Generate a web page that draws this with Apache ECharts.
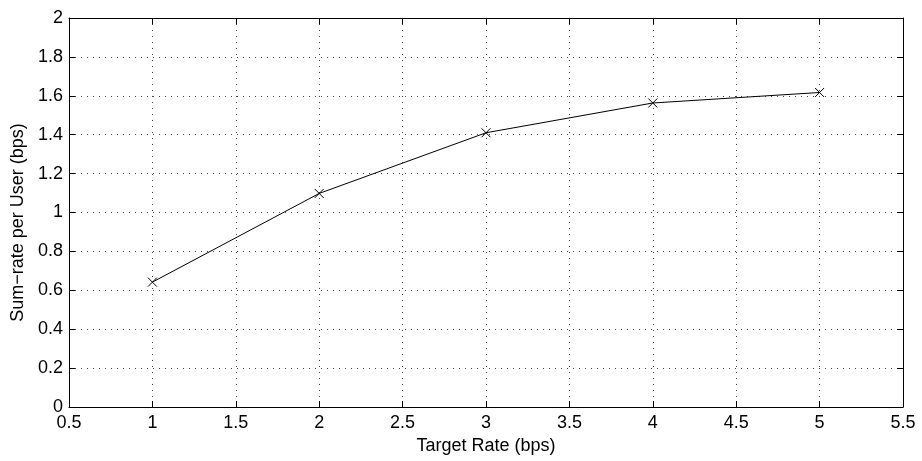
<!DOCTYPE html>
<html>
<head>
<meta charset="utf-8">
<script src="https://cdn.jsdelivr.net/npm/echarts@6/dist/echarts.min.js"></script>
<style>html,body{margin:0;padding:0;background:#fff}#c{width:922px;height:461px}</style>
</head>
<body>
<div id="c"></div>
<script>
const xValues = [1, 2, 3, 4, 5];
const sumRate = [0.642, 1.098, 1.41, 1.563, 1.617];
const xLabel = 'Target Rate (bps)';
const yLabel = 'Sum\u2212rate per User (bps)';

const font = 'Liberation Sans, Arial, Helvetica, sans-serif';
const chart = echarts.init(document.getElementById('c'), null, {renderer: 'canvas'});
const axisCommon = {
  axisLine: {show: true, onZero: false, lineStyle: {color: '#000', width: 1}},
  axisTick: {show: true, inside: true, length: 6, lineStyle: {color: '#000'}},
};
chart.setOption({
  animation: false,
  backgroundColor: '#fff',
  grid: {left: 69, right: 19, top: 18, bottom: 54, containLabel: false},
  xAxis: [
    Object.assign({
      type: 'value', min: 0.5, max: 5.5, interval: 0.5, position: 'bottom',
      name: xLabel, nameLocation: 'middle', nameGap: 29,
      nameTextStyle: {fontFamily: font, fontSize: 18, color: '#000'},
      axisLabel: {fontFamily: font, fontSize: 18, color: '#000', margin: 7, formatter: v => String(v)},
      splitLine: {show: true, lineStyle: {color: '#444', width: 1, type: [1, 5]}}
    }, axisCommon),
    Object.assign({
      type: 'value', min: 0.5, max: 5.5, interval: 0.5, position: 'top',
      axisLabel: {show: false}, splitLine: {show: false}
    }, axisCommon)
  ],
  yAxis: [
    Object.assign({
      type: 'value', min: 0, max: 2, interval: 0.2, position: 'left',
      name: yLabel, nameLocation: 'middle', nameGap: 42, nameRotate: 90,
      nameTextStyle: {fontFamily: font, fontSize: 18, color: '#000', padding: [0, 20, 0, 0]},
      axisLabel: {fontFamily: font, fontSize: 18, color: '#000', margin: 6, formatter: v => String(+v.toFixed(1))},
      splitLine: {show: true, lineStyle: {color: '#444', width: 1, type: [1, 5]}}
    }, axisCommon),
    Object.assign({
      type: 'value', min: 0, max: 2, interval: 0.2, position: 'right',
      axisLabel: {show: false}, splitLine: {show: false}
    }, axisCommon)
  ],
  series: [{
    type: 'line',
    data: xValues.map((x, i) => [x, sumRate[i]]),
    symbol: 'path://M0,0L10,10M10,0L0,10',
    symbolSize: 9,
    showAllSymbol: true,
    lineStyle: {color: '#000', width: 1},
    itemStyle: {color: '#000', borderColor: '#000', borderWidth: 1}
  }]
});
</script>
</body>
</html>
